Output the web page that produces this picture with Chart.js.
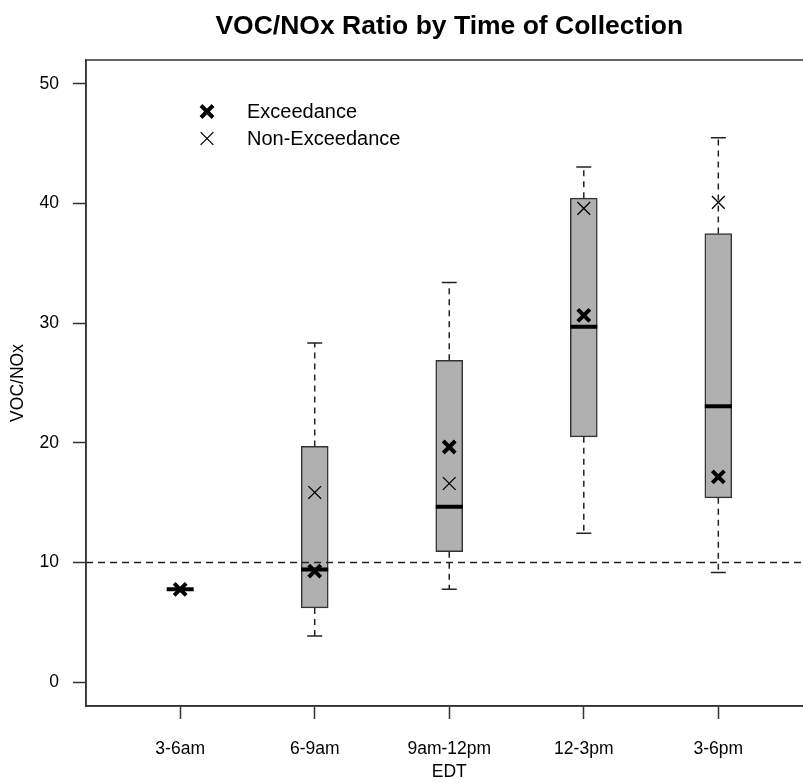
<!DOCTYPE html>
<html>
<head>
<meta charset="utf-8">
<script src="https://cdn.jsdelivr.net/npm/chart.js@4/dist/chart.umd.min.js"></script>
<style>
  html, body { margin: 0; padding: 0; background: #fff; overflow: hidden; }
  canvas { display: block; }
</style>
</head>
<body>
<canvas id="grafica" width="830" height="783"></canvas>
<script>
// datos (VOC/NOx por hora de colecta)
const categories = ['3-6am', '6-9am', '9am-12pm', '12-3pm', '3-6pm'];
const whiskerLow = [7.75, 3.85, 7.75, 12.45, 9.15];
const q1 = [7.75, 6.2, 10.9, 20.5, 15.4];
const medians = [7.75, 9.4, 14.65, 29.7, 23.05];
const q3 = [7.75, 19.7, 26.9, 40.45, 37.5];
const whiskerHigh = [7.75, 28.35, 33.4, 43.05, 45.5];
const exceedance = [7.75, 9.28, 19.65, 30.65, 17.15];
const nonExceedance = [null, 15.85, 16.6, 39.6, 40.1];
const threshold = 10;
const yTicks = [0, 10, 20, 30, 40, 50];

const xMin = 0.3, xMax = 5.7;
const ink = '#222';
const font = 'Liberation Sans, Arial, sans-serif';

const pos = (i) => i + 1;

// bigotes: dos tramos por categoria, separados con null
const whiskerData = categories.flatMap((c, i) => [
  { x: pos(i), y: q3[i] }, { x: pos(i), y: whiskerHigh[i] }, { x: pos(i), y: null },
  { x: pos(i), y: q1[i] }, { x: pos(i), y: whiskerLow[i] }, { x: pos(i), y: null }
]);

// marco, titulo y leyenda dibujados a mano (como en R)
const extras = {
  id: 'extras',
  afterDraw(chart) {
    const { ctx, chartArea: a } = chart;
    ctx.save();
    ctx.strokeStyle = '#333';
    ctx.lineWidth = 1.5;
    ctx.strokeRect(a.left, a.top, a.right - a.left, a.bottom - a.top);
    // titulo
    ctx.fillStyle = '#000';
    ctx.font = 'bold 26.5px ' + font;
    ctx.textAlign = 'center';
    ctx.textBaseline = 'alphabetic';
    ctx.fillText('VOC/NOx Ratio by Time of Collection', (a.left + a.right) / 2, 33.5);
    // leyenda
    const items = chart.data.datasets.filter(d => d.legendLabel);
    ctx.font = '20px ' + font;
    ctx.textAlign = 'left';
    ctx.textBaseline = 'middle';
    items.forEach((d, k) => {
      const cx = 207, cy = 111.5 + k * 27;
      const r = d.pointRadius * Math.SQRT1_2;
      ctx.strokeStyle = '#000';
      ctx.lineWidth = d.pointBorderWidth;
      ctx.beginPath();
      ctx.moveTo(cx - r, cy - r); ctx.lineTo(cx + r, cy + r);
      ctx.moveTo(cx - r, cy + r); ctx.lineTo(cx + r, cy - r);
      ctx.stroke();
      ctx.fillText(d.legendLabel, 247, cy + 1);
    });
    ctx.restore();
  }
};

const ctx = document.getElementById('grafica').getContext('2d');
new Chart(ctx, {
  type: 'bar',
  data: {
    datasets: [
      {
        type: 'line',
        legendLabel: 'Exceedance',
        data: exceedance.map((v, i) => ({ x: pos(i), y: v })),
        showLine: false,
        pointStyle: 'crossRot',
        pointRadius: 8.5,
        pointBorderWidth: 4,
        pointBorderColor: '#000',
        order: 0
      },
      {
        type: 'line',
        legendLabel: 'Non-Exceedance',
        data: nonExceedance.map((v, i) => ({ x: pos(i), y: v })),
        showLine: false,
        pointStyle: 'crossRot',
        pointRadius: 9,
        pointBorderWidth: 1.3,
        pointBorderColor: '#000',
        order: 0
      },
      {
        type: 'line',
        data: [{ x: xMin, y: threshold }, { x: xMax, y: threshold }],
        borderColor: ink,
        borderWidth: 1.5,
        borderDash: [7, 5],
        pointRadius: 0,
        order: 1
      },
      {
        type: 'line',
        data: medians.map((v, i) => ({ x: pos(i), y: v })),
        showLine: false,
        pointStyle: 'line',
        pointRadius: 13.5,
        pointBorderWidth: 4,
        pointBorderColor: '#000',
        order: 2
      },
      {
        type: 'line',
        data: whiskerHigh.map((v, i) => ({ x: pos(i), y: v }))
          .concat(whiskerLow.map((v, i) => ({ x: pos(i), y: v }))),
        showLine: false,
        pointStyle: 'line',
        pointRadius: 7.5,
        pointBorderWidth: 1.5,
        pointBorderColor: ink,
        order: 3
      },
      {
        type: 'line',
        data: whiskerData,
        spanGaps: false,
        borderColor: ink,
        borderWidth: 1.5,
        borderDash: [6, 5],
        pointRadius: 0,
        order: 4
      },
      {
        type: 'bar',
        data: q1.map((v, i) => ({ x: pos(i), y: [v, q3[i]] })),
        backgroundColor: '#b0b0b0',
        borderColor: '#333',
        borderWidth: 1.5,
        borderSkipped: false,
        barThickness: 27,
        grouped: false,
        order: 5
      }
    ]
  },
  options: {
    responsive: false,
    animation: false,
    events: [],
    layout: { padding: { top: 60, right: 17, left: 0, bottom: 0 } },
    plugins: { legend: { display: false }, tooltip: { enabled: false }, title: { display: false } },
    scales: {
      x: {
        type: 'linear',
        offset: false,
        min: xMin,
        max: xMax,
        afterBuildTicks: (s) => { s.ticks = categories.map((c, i) => ({ value: pos(i) })); },
        afterFit: (s) => { s.height = 77; },
        ticks: {
          autoSkip: false,
          maxRotation: 0,
          padding: 20,
          color: '#000',
          font: { family: font, size: 17.5 },
          callback: (v) => categories[v - 1]
        },
        grid: { offset: false, drawOnChartArea: false, drawTicks: true, tickLength: 13, tickColor: '#333', tickWidth: 1.5 },
        border: { display: true, color: '#333', width: 1.5 },
        title: { display: true, text: 'EDT', color: '#000', font: { family: font, size: 17.5 }, padding: 0 }
      },
      y: {
        min: -2,
        max: 52,
        afterBuildTicks: (s) => { s.ticks = yTicks.map(v => ({ value: v })); },
        afterFit: (s) => { s.width = 86; },
        ticks: { padding: 14, color: '#000', font: { family: font, size: 17.5 } },
        grid: { drawOnChartArea: false, drawTicks: true, tickLength: 13, tickColor: '#333', tickWidth: 1.5 },
        border: { display: true, color: '#333', width: 1.5 },
        title: { display: true, text: 'VOC/NOx', color: '#000', font: { family: font, size: 17.5 }, padding: { top: 8, bottom: 0 } }
      }
    }
  },
  plugins: [extras]
});
</script>
</body>
</html>
